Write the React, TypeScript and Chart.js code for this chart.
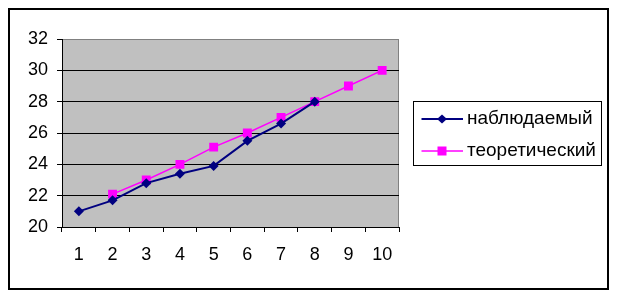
import React, { useEffect, useRef } from "react";
import { Chart, registerables } from "chart.js";

Chart.register(...registerables);

const categories = ["1", "2", "3", "4", "5", "6", "7", "8", "9", "10"];
const observed = [21, 21.7, 22.8, 23.4, 23.9, 25.5, 26.6, 28, null, null];
const theoretical = [null, 22.1, 23, 24, 25.1, 26, 27, 28, 29, 30];
const seriesNames = ["наблюдаемый", "теоретический"];
const yTicks = { min: 20, max: 32, step: 2 };

const W = 601;
const H = 282;
const FONT = "Arial, 'Liberation Sans', sans-serif";

const framePlugin = {
  id: "frame",
  beforeDraw(chart: any) {
    const { ctx, chartArea } = chart;
    ctx.save();
    ctx.fillStyle = "#fff";
    ctx.fillRect(0, 0, W, H);
    ctx.strokeStyle = "#000";
    ctx.lineWidth = 2;
    ctx.strokeRect(1, 1, W - 2, H - 2);
    ctx.fillStyle = "#c0c0c0";
    ctx.fillRect(chartArea.left, chartArea.top, chartArea.right - chartArea.left, chartArea.bottom - chartArea.top);
    ctx.strokeStyle = "#808080";
    ctx.lineWidth = 1;
    ctx.strokeRect(chartArea.left + 0.5, chartArea.top + 0.5, chartArea.right - chartArea.left - 1, chartArea.bottom - chartArea.top);
    ctx.restore();
  },
  afterDraw(chart: any) {
    const { ctx } = chart;
    ctx.save();
    ctx.strokeStyle = "#000";
    ctx.lineWidth = 1;
    ctx.strokeRect(405.5, 93.5, 188, 64);
    const items = [
      { y: 111, color: "#000080", style: "diamond", lw: 2 },
      { y: 143, color: "#ff00ff", style: "square", lw: 1.5 },
    ];
    items.forEach((it, i) => {
      ctx.strokeStyle = it.color;
      ctx.lineWidth = it.lw;
      ctx.beginPath();
      ctx.moveTo(413.5, it.y);
      ctx.lineTo(455, it.y);
      ctx.stroke();
      ctx.fillStyle = it.color;
      const cx = 434;
      if (it.style === "diamond") {
        ctx.beginPath();
        ctx.moveTo(cx, it.y - 4.5);
        ctx.lineTo(cx + 5, it.y);
        ctx.lineTo(cx, it.y + 4.5);
        ctx.lineTo(cx - 5, it.y);
        ctx.closePath();
        ctx.fill();
      } else {
        ctx.fillRect(cx - 4.5, it.y - 4.5, 9, 9);
      }
      ctx.fillStyle = "#000";
      ctx.font = `19px ${FONT}`;
      ctx.textBaseline = "middle";
      ctx.textAlign = "left";
      ctx.fillText(seriesNames[i], 459, it.y);
    });
    ctx.restore();
  },
};

export default function App() {
  const ref = useRef<HTMLCanvasElement>(null);
  useEffect(() => {
    if (!ref.current) return;
    const chart = new Chart(ref.current, {
      type: "line",
      data: {
        labels: categories,
        datasets: [
          {
            label: seriesNames[0],
            data: observed as any,
            borderColor: "#000080",
            backgroundColor: "#000080",
            borderWidth: 2,
            pointStyle: "rectRot",
            pointRadius: 5,
            pointHoverRadius: 5,
            pointBorderWidth: 0,
            spanGaps: false,
          },
          {
            label: seriesNames[1],
            data: theoretical as any,
            borderColor: "#ff00ff",
            backgroundColor: "#ff00ff",
            borderWidth: 1.5,
            pointStyle: "rect",
            pointRadius: 6.3,
            pointHoverRadius: 6.3,
            pointBorderWidth: 0,
          },
        ],
      },
      options: {
        responsive: false,
        animation: false,
        devicePixelRatio: 1,
        layout: { padding: { top: 31, right: 210, left: 0, bottom: 0 } },
        plugins: { legend: { display: false }, tooltip: { enabled: false } },
        scales: {
          x: {
            type: "category",
            offset: true,
            grid: {
              offset: true,
              drawOnChartArea: false,
              drawTicks: true,
              tickLength: 5,
              tickColor: "#000",
            },
            border: { color: "#000", width: 1 },
            ticks: { color: "#000", font: { family: FONT, size: 18 }, padding: 12, maxRotation: 0 },
            afterFit: (s: any) => { s.height = 63; },
          },
          y: {
            min: yTicks.min,
            max: yTicks.max,
            ticks: { stepSize: yTicks.step, color: "#000", font: { family: FONT, size: 18 }, padding: 9 },
            grid: {
              color: (c: any) => (c.tick && c.tick.value === yTicks.max ? "rgba(0,0,0,0)" : "#000"),
              tickColor: "#000",
              tickLength: 5,
              lineWidth: 1,
            },
            border: { color: "#000", width: 1 },
            afterFit: (s: any) => { s.width = 54; },
          },
        },
      },
      plugins: [framePlugin],
    });
    return () => chart.destroy();
  }, []);
  return (
    <div style={{ width: W, height: H }}>
      <canvas ref={ref} width={W} height={H} style={{ display: "block", width: W, height: H }} />
    </div>
  );
}
